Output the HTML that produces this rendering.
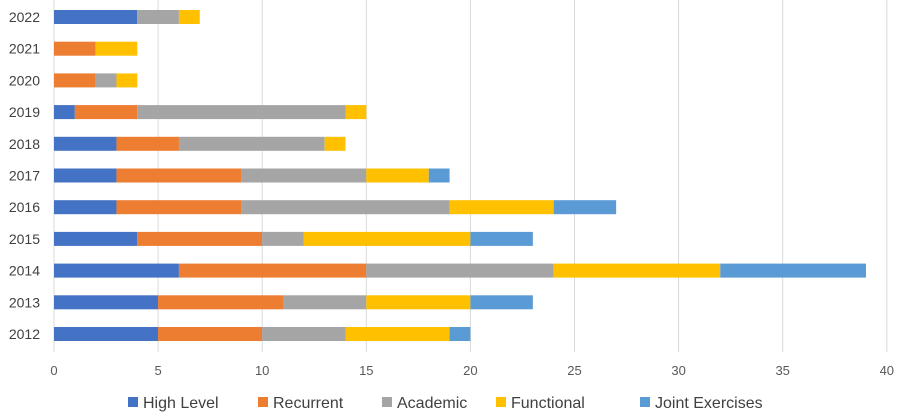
<!DOCTYPE html>
<html><head><meta charset="utf-8"><style>
body{margin:0;background:#fff;font-family:"Liberation Sans",sans-serif;}
</style></head><body>
<svg id="c" width="900" height="415" xmlns="http://www.w3.org/2000/svg"></svg>
<script>
const years=["2022","2021","2020","2019","2018","2017","2016","2015","2014","2013","2012"];
const highLevel=[4,0,0,1,3,3,3,4,6,5,5];
const recurrent=[0,2,2,3,3,6,6,6,9,6,5];
const academic=[2,0,1,10,7,6,10,2,9,4,4];
const functional=[1,2,1,1,1,3,5,8,8,5,5];
const joint=[0,0,0,0,0,1,3,3,7,3,1];
const ticks=[0,5,10,15,20,25,30,35,40];
const seriesNames=["High Level","Recurrent","Academic","Functional","Joint Exercises"];
const colors=["#4472c4","#ed7d31","#a5a5a5","#ffc000","#5b9bd5"];
const series=[highLevel,recurrent,academic,functional,joint];
const NS="http://www.w3.org/2000/svg";
const svg=document.getElementById('c');
const X=v=>54+v*20.82;
const Y=i=>17+i*31.7;
function mk(t,a){const e=document.createElementNS(NS,t);for(const k in a)e.setAttribute(k,a[k]);svg.appendChild(e);return e;}
ticks.forEach(t=>{
 const l=mk('line',{x1:X(t),x2:X(t),y1:0,y2:352,stroke:'#d9d9d9','stroke-width':1});
 
 
 const tx=mk('text',{x:X(t),y:375,'text-anchor':'middle','font-size':13,fill:'#595959'});
 tx.textContent=t;
 
 
});
years.forEach((y,i)=>{
 const tx=mk('text',{x:40,y:Y(i)+5,'text-anchor':'end','font-size':14,fill:'#404040'});
 tx.textContent=y;
 
 
 let acc=0;
 series.forEach((s,k)=>{
  const v=s[i]; if(!v)return;
  const r=mk('rect',{x:X(acc),y:Y(i)-7,width:X(acc+v)-X(acc),height:14,fill:colors[k]});
  
  
  acc+=v;
 });
});
const lx=[128,258,382,496,640];
seriesNames.forEach((n,k)=>{
 const r=mk('rect',{x:lx[k],y:397,width:10,height:10,fill:colors[k]});
 
 
 const t=mk('text',{x:lx[k]+15,y:408,'font-size':16,fill:'#404040'});
 t.textContent=n;
 
 
});
</script>
</body></html>
